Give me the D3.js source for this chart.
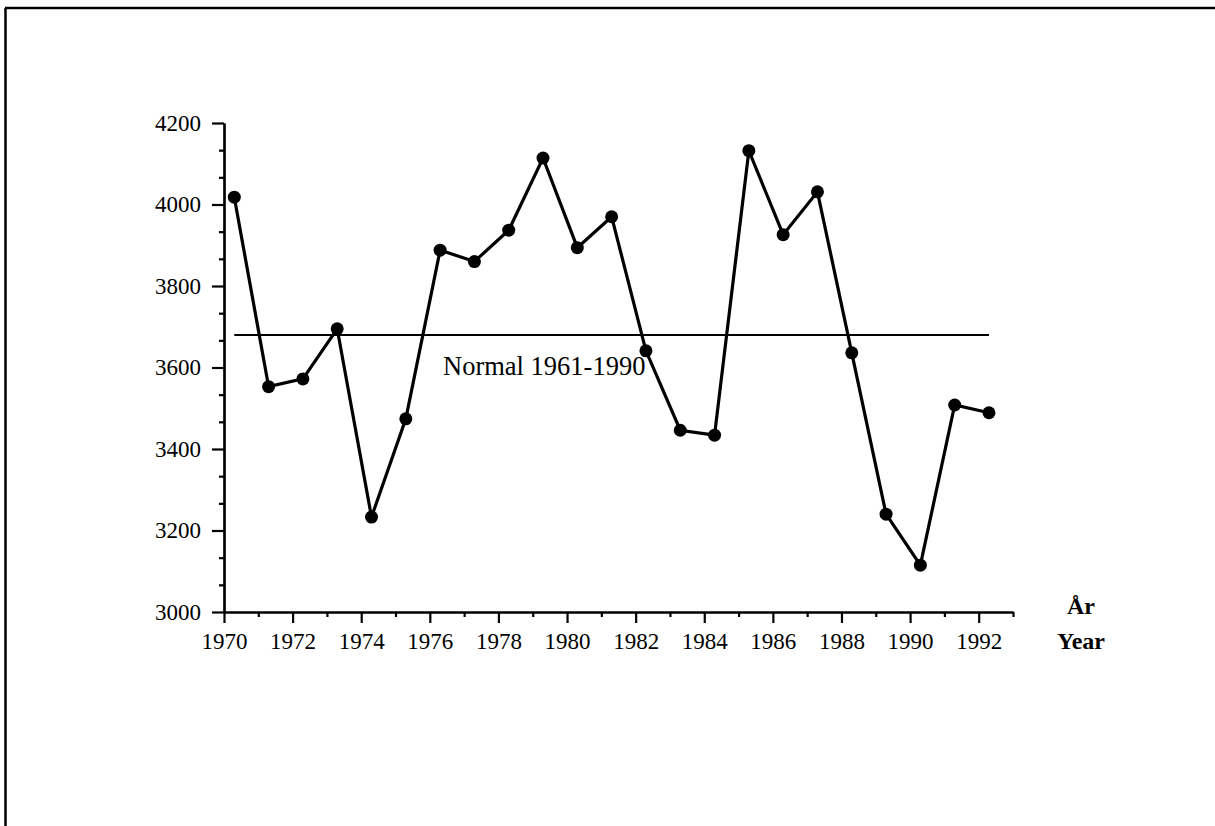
<!DOCTYPE html>
<html>
<head>
<meta charset="utf-8">
<script src="https://cdn.jsdelivr.net/npm/d3@7"></script>
<style>
  body { margin: 0; background: #fff; }
  svg { display: block; }
  text { font-family: "Liberation Serif", "Times New Roman", serif; fill: #000; }
</style>
</head>
<body>
<svg id="chart" width="1215" height="826"></svg>
<script>
// data
const years = [1970, 1971, 1972, 1973, 1974, 1975, 1976, 1977, 1978, 1979, 1980, 1981,
               1982, 1983, 1984, 1985, 1986, 1987, 1988, 1989, 1990, 1991, 1992]
const values = [4018, 3553, 3572, 3695, 3233, 3474, 3888, 3860, 3937, 4114, 3894, 3970,
                3641, 3446, 3434, 4132, 3926, 4031, 3636, 3240, 3115, 3508, 3489]
const normalValue = 3680
const normalLabel = 'Normal 1961-1990'
const yTicks = [3000, 3200, 3400, 3600, 3800, 4000, 4200]
const xTicks = [1970, 1972, 1974, 1976, 1978, 1980, 1982, 1984, 1986, 1988, 1990, 1992]
const xMinor = [1971, 1973, 1975, 1977, 1979, 1981, 1983, 1985, 1987, 1989, 1991, 1993]
const axisTitle = ['År', 'Year']

// points sit a bit after the tick of their year
const pointOffset = 0.3

const svg = d3.select('#chart')

// page frame (top and left edge of the scanned sheet)
svg.append('line').attr('x1', 5).attr('y1', 8).attr('x2', 1215).attr('y2', 8)
    .attr('stroke', '#000').attr('stroke-width', 2.5)
svg.append('line').attr('x1', 5.5).attr('y1', 8).attr('x2', 5.5).attr('y2', 826)
    .attr('stroke', '#000').attr('stroke-width', 2.5)

const x = d3.scaleLinear().domain([1970, 1993]).range([224, 1013])
const y = d3.scaleLinear().domain([3000, 4200]).range([612, 123])

//minor y ticks every third of 200
const yMinor = []
for (let v = 3000; v < 4200; v += 200) {
    yMinor.push(v + 200 / 3, v + 400 / 3)
}

const g = svg.append('g')

// minor ticks first, majors on top
g.append('g')
    .attr('transform', 'translate(224,0)')
    .call(d3.axisLeft(y).tickValues(yMinor).tickSize(5).tickSizeOuter(0).tickFormat(''))
g.append('g')
    .attr('transform', 'translate(0,612)')
    .call(d3.axisBottom(x).tickValues(xMinor).tickSize(5).tickSizeOuter(0).tickFormat(''))

g.append('g')
    .attr('transform', 'translate(224,0)')
    .call(d3.axisLeft(y).tickValues(yTicks).tickSize(12).tickSizeOuter(0).tickPadding(11)
        .tickFormat(d3.format('d')))
g.append('g')
    .attr('transform', 'translate(0,612)')
    .call(d3.axisBottom(x).tickValues(xTicks).tickSize(11).tickSizeOuter(0).tickPadding(10)
        .tickFormat(d3.format('d')))

g.selectAll('.domain, .tick line').attr('stroke', '#000').attr('stroke-width', 2.2)
g.selectAll('.tick text').style('font-size', '23px')
    .style('font-family', '"Liberation Serif", serif')

// axis title on the right
const title = svg.append('text')
    .attr('x', 1081).attr('y', 614)
    .attr('text-anchor', 'middle')
    .style('font-size', '24px').style('font-weight', 'bold')
title.selectAll('tspan').data(axisTitle).enter().append('tspan')
    .attr('x', 1081)
    .attr('dy', (d, i) => i === 0 ? 0 : 35)
    .text(d => d)

// normal line spans the data range
svg.append('line')
    .attr('x1', x(years[0] + pointOffset)).attr('x2', x(years[years.length - 1] + pointOffset))
    .attr('y1', y(normalValue)).attr('y2', y(normalValue))
    .attr('stroke', '#000').attr('stroke-width', 2)

svg.append('text')
    .attr('x', 443).attr('y', 375)
    .style('font-size', '26.5px')
    .text(normalLabel)

const line = d3.line()
    .x((d, i) => x(years[i] + pointOffset))
    .y(d => y(d))

svg.append('path')
    .datum(values)
    .attr('d', line)
    .attr('fill', 'none')
    .attr('stroke', '#000')
    .attr('stroke-width', 3.2)

svg.append('g').selectAll('circle')
    .data(values)
    .enter().append('circle')
    .attr('cx', (d, i) => x(years[i] + pointOffset))
    .attr('cy', d => y(d))
    .attr('r', 6.5)
    .attr('fill', '#000')
</script>
</body>
</html>
